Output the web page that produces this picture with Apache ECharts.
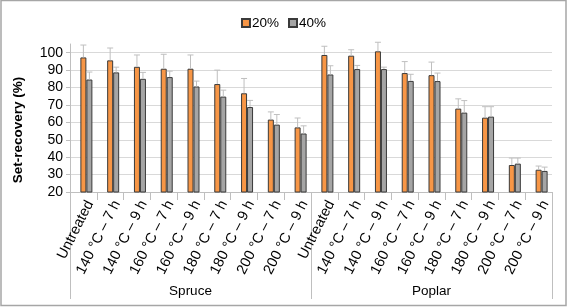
<!DOCTYPE html>
<html>
<head>
<meta charset="utf-8">
<style>
  html, body { margin: 0; padding: 0; background: #fff; }
  #main { width: 567px; height: 307px; }
</style>
<script src="https://cdn.jsdelivr.net/npm/echarts@6/dist/echarts.min.js"></script>
</head>
<body>
<div id="main"></div>
<script>
// treatment labels (same for both woods)
const treatments = [
  'Untreated', '140 °C – 7 h', '140 °C – 9 h', '160 °C – 7 h', '160 °C – 9 h',
  '180 °C – 7 h', '180 °C – 9 h', '200 °C – 7 h', '200 °C – 9 h'
];
const woods = ['Spruce', 'Poplar'];
const categories = treatments.concat(treatments);

// set-recovery (%) – spruce then poplar
const val20 = [97.3, 95.6, 91.9, 90.8, 90.8, 82.0, 76.7, 61.6, 57.1,
               98.7, 98.3, 100.8, 88.3, 87.1, 67.9, 62.7, 35.5, 32.8];
const val40 = [84.6, 88.7, 85.0, 86.0, 80.6, 74.8, 68.8, 58.7, 53.6,
               87.5, 90.6, 90.6, 83.8, 83.7, 65.6, 63.3, 36.3, 32.1];
// upper error (std dev)
const err20 = [7.1, 7.1, 6.8, 8.3, 7.9, 8.0, 8.5, 4.4, 5.4,
               5.0, 3.4, 5.2, 6.6, 7.5, 5.6, 6.3, 4.0, 2.1];
const err40 = [4.3, 3.0, 3.7, 3.4, 3.1, 3.7, 3.8, 5.8, 4.4,
               5.0, 2.1, 1.1, 3.8, 4.6, 6.9, 5.7, 3.2, 2.2];

const yTicks = [20, 30, 40, 50, 60, 70, 80, 90, 100];

const BAR_W = 6;
const FONT = '"Liberation Sans", Arial, sans-serif';

const errData = (vals, errs) => vals.map((v, i) => [i, v, errs[i]]);

// upper error bar with cap; shift = offset of bar centre from category centre
const errorBar = (shift) => (params, api) => {
  const i = api.value(0);
  const v = api.value(1);
  const e = api.value(2);
  const p0 = api.coord([i, v]);
  const p1 = api.coord([i, v + e]);
  const x = p0[0] + shift;
  const style = { stroke: '#bfbfbf', lineWidth: 1 };
  return {
    type: 'group',
    children: [
      { type: 'line', shape: { x1: x, y1: p0[1], x2: x, y2: p1[1] }, style },
      { type: 'line', shape: { x1: x - 3, y1: p1[1], x2: x + 3, y2: p1[1] }, style }
    ]
  };
};

const chart = echarts.init(document.getElementById('main'));

const option = {
  animation: false,
  textStyle: { fontFamily: FONT },
  graphic: [
    {
      type: 'rect',
      shape: { x: 1, y: 0.5, width: 565, height: 305 },
      style: { fill: 'none', stroke: '#a6a6a6', lineWidth: 1.5 },
      silent: true
    },
    {
      type: 'text',
      x: 18,
      y: 130,
      rotation: Math.PI / 2,
      style: {
        text: 'Set-recovery (%)',
        font: 'bold 13.5px ' + FONT,
        fill: '#000',
        align: 'center',
        verticalAlign: 'middle'
      }
    }
  ],
  legend: {
    top: 11,
    left: 'center',
    data: ['20%', '40%'],
    itemWidth: 8,
    itemHeight: 8,
    itemGap: 9,
    icon: 'rect',
    textStyle: { fontSize: 13.5, color: '#000', padding: [0, 0, 0, -3] }
  },
  grid: { left: 70, right: 15, top: 44, bottom: 115, containLabel: false },
  xAxis: [
    {
      type: 'category',
      data: categories,
      axisLine: { lineStyle: { color: '#bfbfbf' } },
      axisTick: { show: true, length: 8, alignWithLabel: false, lineStyle: { color: '#bfbfbf' } },
      axisLabel: { interval: 0, rotate: 63, margin: 6, fontSize: 14.5, color: '#000', verticalAlign: 'top' },
      splitLine: { show: false }
    },
    {
      type: 'category',
      data: woods,
      position: 'bottom',
      offset: 107,
      axisLine: { show: false },
      axisTick: { show: true, inside: true, length: 107, alignWithLabel: false, lineStyle: { color: '#bfbfbf' } },
      axisLabel: { margin: -15, fontSize: 13.5, color: '#000' },
      splitLine: { show: false }
    }
  ],
  yAxis: {
    type: 'value',
    min: yTicks[0],
    max: 105,
    interval: 10,
    axisLine: { show: true, lineStyle: { color: '#bfbfbf' } },
    axisTick: { show: true, length: 4, lineStyle: { color: '#bfbfbf' } },
    axisLabel: {
      fontSize: 14,
      color: '#000',
      margin: 7,
      showMaxLabel: false,
      formatter: (v) => (yTicks.indexOf(v) >= 0 ? String(v) : '')
    },
    splitLine: {
      show: true,
      lineStyle: {
        color: ['#d9d9d9', '#d9d9d9', '#d9d9d9', '#d9d9d9', '#d9d9d9',
                '#d9d9d9', '#d9d9d9', '#d9d9d9', '#d9d9d9', 'rgba(0,0,0,0)']
      }
    }
  },
  series: [
    {
      // empty slot – the reference clusters are shifted by one bar width
      name: 'spacer',
      type: 'bar',
      data: [],
      barWidth: BAR_W,
      barGap: '0%',
      silent: true
    },
    {
      name: '20%',
      type: 'bar',
      data: val20,
      barWidth: BAR_W,
      barGap: '0%',
      itemStyle: { color: '#f79646', borderColor: '#3a3a3a', borderWidth: 1 }
    },
    {
      name: '40%',
      type: 'bar',
      data: val40,
      barWidth: BAR_W,
      barGap: '0%',
      itemStyle: { color: '#a5a5a5', borderColor: '#3a3a3a', borderWidth: 1 }
    },
    {
      name: 'err20',
      type: 'custom',
      data: errData(val20, err20),
      renderItem: errorBar(0),
      clip: false,
      z: 3
    },
    {
      name: 'err40',
      type: 'custom',
      data: errData(val40, err40),
      renderItem: errorBar(BAR_W),
      clip: false,
      z: 3
    }
  ]
};

chart.setOption(option);
</script>
</body>
</html>
